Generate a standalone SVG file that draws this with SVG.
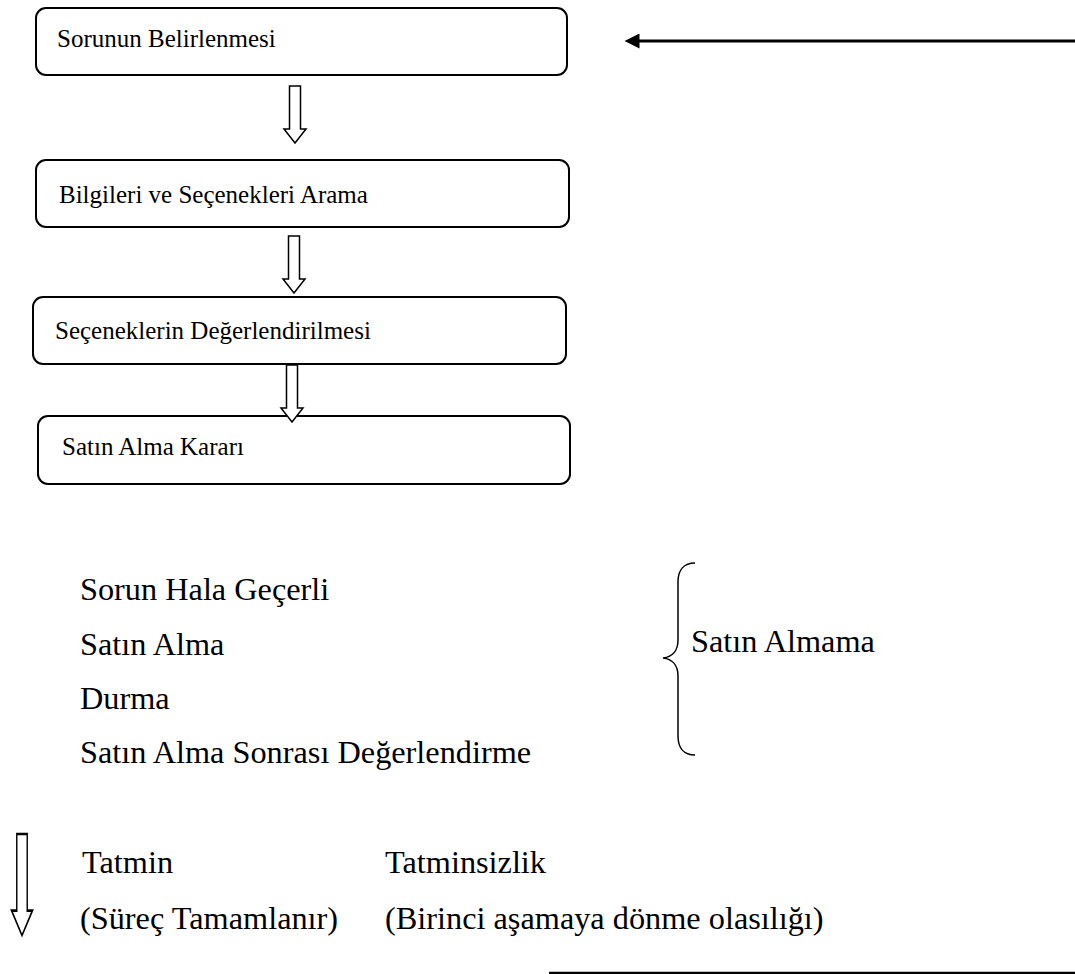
<svg xmlns="http://www.w3.org/2000/svg" width="1075" height="974" viewBox="0 0 1075 974">
  <style>
    .box { fill: #ffffff; stroke: #000000; stroke-width: 2; }
    .hollow { fill: #ffffff; stroke: #000000; stroke-width: 1.5; stroke-linejoin: miter; }
    .t { font-family: "Liberation Serif", "Times New Roman", serif; fill: #000000; }
    .bt { font-size: 25px; }
    .body { font-size: 32.3px; }
    .line { stroke: #000000; stroke-width: 3; fill: none; }
  </style>
  <defs>
    <marker id="head" viewBox="0 0 10 10" refX="1" refY="5" markerWidth="5.5" markerHeight="5" orient="auto-start-reverse" markerUnits="strokeWidth">
      <path d="M0,0 L10,5 L0,10 z" fill="#000000"/>
    </marker>
    <!-- hollow block arrow pointing down, origin at top centre -->
    <path id="blockArrow" d="M-5.5,0 H5.5 V43 H11 L0,57 L-11,43 H-5.5 Z"/>
  </defs>

  <rect width="1075" height="974" fill="#ffffff"/>

  <g id="node-sorunun-belirlenmesi">
    <rect class="box" x="36" y="8" width="531" height="67" rx="10"/>
    <text class="t bt" x="57" y="47">Sorunun Belirlenmesi</text>
  </g>

  <g id="node-bilgileri-arama">
    <rect class="box" x="36" y="160" width="533" height="67" rx="10"/>
    <text class="t bt" x="59" y="203">Bilgileri ve Seçenekleri Arama</text>
  </g>

  <g id="node-seceneklerin-degerlendirilmesi">
    <rect class="box" x="33" y="297" width="533" height="67" rx="10"/>
    <text class="t bt" x="55" y="339">Seçeneklerin Değerlendirilmesi</text>
  </g>

  <g id="node-satin-alma-karari">
    <rect class="box" x="38" y="416" width="532" height="68" rx="10"/>
    <text class="t bt" x="62" y="455">Satın Alma Kararı</text>
  </g>

  <g id="connectors">
    <use href="#blockArrow" class="hollow" transform="translate(295,86)"/>
    <use href="#blockArrow" class="hollow" transform="translate(294,236)"/>
    <use href="#blockArrow" class="hollow" transform="translate(292,365)"/>
    <line class="line" x1="1075" y1="41" x2="638" y2="41" marker-end="url(#head)"/>
  </g>

  <g id="outcomes">
    <text class="t body" x="80" y="600">Sorun Hala Geçerli</text>
    <text class="t body" x="80" y="655">Satın Alma</text>
    <text class="t body" x="80" y="709">Durma</text>
    <text class="t body" x="80" y="763">Satın Alma Sonrası Değerlendirme</text>
  </g>

  <g id="brace-satin-almama">
    <path d="M695,563 C684,563 678,570 678,582 V640 C678,651 672,657 663,658 C672,659 678,665 678,676 V736 C678,748 684,755 695,755" fill="none" stroke="#000000" stroke-width="1.5"/>
    <text class="t body" x="691" y="652">Satın Almama</text>
  </g>

  <g id="result">
    <use href="#blockArrow" class="hollow" transform="translate(22,834) scale(0.95,1.78)"/>
    <text class="t body" x="82" y="873">Tatmin</text>
    <text class="t body" x="80" y="929">(Süreç Tamamlanır)</text>
    <text class="t body" x="385" y="873">Tatminsizlik</text>
    <text class="t body" x="385" y="929">(Birinci aşamaya dönme olasılığı)</text>
    <line x1="549" y1="973" x2="1075" y2="973" stroke="#000000" stroke-width="2.5"/>
  </g>
</svg>
